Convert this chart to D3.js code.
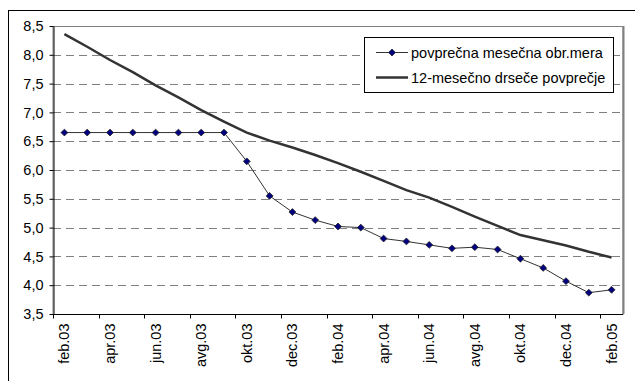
<!DOCTYPE html>
<html>
<head>
  <meta charset="utf-8">
  <title>Obrestna mera</title>
  <script src="https://d3js.org/d3.v7.min.js"></script>
  <style>
    body {
      margin: 0;
      padding: 0;
      background: white;
    }
    text {
      font-family: "Liberation Sans", Arial, sans-serif;
      fill: #000;
    }
    .grid line {
      stroke: #808080;
      stroke-dasharray: 8,5;
    }
  </style>
</head>
<body>
  <div id="chart"></div>
  <script>
    // months on the x axis
    var months = ["feb.03","mar.03","apr.03","maj.03","jun.03","jul.03","avg.03","sep.03",
                  "okt.03","nov.03","dec.03","jan.04","feb.04","mar.04","apr.04","maj.04",
                  "jun.04","jul.04","avg.04","sep.04","okt.04","nov.04","dec.04","jan.05","feb.05"];

    // povprecna mesecna obrestna mera
    var monthly = [6.65, 6.65, 6.65, 6.65, 6.65, 6.65, 6.65, 6.65,
                   6.15, 5.55, 5.27, 5.13, 5.02, 5.00, 4.81, 4.76,
                   4.70, 4.64, 4.66, 4.62, 4.46, 4.30, 4.07, 3.87, 3.92];

    // 12-mesecno drsece povprecje
    var moving = [8.36, 8.14, 7.91, 7.70, 7.47, 7.26, 7.04, 6.84,
                  6.65, 6.51, 6.39, 6.26, 6.12, 5.97, 5.81, 5.65,
                  5.52, 5.36, 5.19, 5.03, 4.87, 4.78, 4.69, 4.58, 4.48];

    var yTicks = [3.5, 4.0, 4.5, 5.0, 5.5, 6.0, 6.5, 7.0, 7.5, 8.0, 8.5];

    var seriesNames = ["povprečna mesečna obr.mera", "12-mesečno drseče povprečje"];

    var width = 635, height = 381;
    var plot = {left: 53, top: 26, right: 623, bottom: 314};
    var fontSize = "14.5px";

    var svg = d3.select("#chart")
      .append("svg")
        .attr("width", width)
        .attr("height", height);

    // outer chart border (runs off the picture on right and bottom)
    svg.append("rect")
        .attr("x", 8.5).attr("y", 10.5)
        .attr("width", 700).attr("height", 500)
        .attr("fill", "white")
        .attr("stroke", "#000")
        .attr("stroke-width", 1);

    var x = d3.scaleBand()
        .domain(months)
        .range([plot.left, plot.right])
        .padding(0);

    var y = d3.scaleLinear()
        .domain([3.5, 8.5])
        .range([plot.bottom, plot.top]);

    var locale = d3.formatLocale({decimal: ",", thousands: ".", grouping: [3], currency: ["", ""]});
    var fmt = locale.format(".1f");

    // plot area border
    svg.append("rect")
        .attr("x", plot.left).attr("y", plot.top + 0.5)
        .attr("width", plot.right - plot.left).attr("height", plot.bottom - plot.top)
        .attr("fill", "none")
        .attr("stroke", "#808080");
    svg.append("line")
        .attr("x1", plot.right + 0.5).attr("x2", plot.right + 0.5)
        .attr("y1", plot.top).attr("y2", plot.bottom)
        .attr("stroke", "#808080").attr("stroke-width", 2);

    // dashed grid lines
    svg.append("g")
        .attr("class", "grid")
      .selectAll("line")
        .data(yTicks.filter(function(d) { return d > 3.5 && d < 8.5; }))
      .enter().append("line")
        .attr("x1", plot.left)
        .attr("x2", plot.right)
        .attr("y1", function(d) { return Math.round(y(d)) + 0.5; })
        .attr("y2", function(d) { return Math.round(y(d)) + 0.5; });

    // y axis
    var yAxis = svg.append("g")
        .attr("transform", "translate(" + (plot.left + 0.5) + ",0)")
        .call(d3.axisLeft(y).tickValues(yTicks).tickFormat(fmt).tickSize(4).tickPadding(6).tickSizeOuter(0));
    yAxis.selectAll("text").style("font-size", fontSize).style("font-family", "Liberation Sans, Arial, sans-serif").attr("fill", "#000");
    yAxis.selectAll("line, path").attr("stroke", "#000");

    // x axis: ticks between categories, labels under every second month
    var xAxis = svg.append("g")
        .attr("transform", "translate(0," + (plot.bottom + 0.5) + ")");
    xAxis.append("line")
        .attr("x1", plot.left).attr("x2", plot.right)
        .attr("stroke", "#000");
    var labelled = months.filter(function(d, i) { return i % 2 === 0; });
    xAxis.selectAll(".tick")
        .data(labelled)
      .enter().append("line")
        .attr("class", "tick")
        .attr("x1", function(d) { return Math.round(x(d)) + 0.5; })
        .attr("x2", function(d) { return Math.round(x(d)) + 0.5; })
        .attr("y1", 0).attr("y2", 4)
        .attr("stroke", "#000");
    xAxis.selectAll(".lbl")
        .data(labelled)
      .enter().append("text")
        .attr("class", "lbl")
        .attr("transform", function(d) {
          return "translate(" + (x(d) + x.bandwidth() / 2) + ",9) rotate(-90)";
        })
        .attr("dy", "0.35em")
        .style("text-anchor", "end")
        .style("font-size", fontSize)
        .text(function(d) { return d; });

    var cx = function(d, i) { return x(months[i]) + x.bandwidth() / 2; };

    // moving average line
    svg.append("path")
        .datum(moving)
        .attr("fill", "none")
        .attr("stroke", "#333")
        .attr("stroke-width", 2.5)
        .attr("d", d3.line().x(cx).y(function(d) { return y(d); }));

    // monthly line with diamonds
    svg.append("path")
        .datum(monthly)
        .attr("fill", "none")
        .attr("stroke", "#333")
        .attr("stroke-width", 1)
        .attr("d", d3.line().x(cx).y(function(d) { return y(d); }));

    var diamond = d3.symbol().type(d3.symbolDiamond2).size(30);
    svg.selectAll(".pt")
        .data(monthly)
      .enter().append("path")
        .attr("class", "pt")
        .attr("transform", function(d, i) { return "translate(" + cx(d, i) + "," + y(d) + ")"; })
        .attr("d", diamond)
        .attr("fill", "#000080")
        .attr("stroke", "#222")
        .attr("stroke-width", 0.8);

    // legend
    var lg = svg.append("g");
    lg.append("rect")
        .attr("x", 364.5).attr("y", 37.5)
        .attr("width", 249).attr("height", 55)
        .attr("fill", "white")
        .attr("stroke", "#000");
    var rows = [52.5, 77.5];
    lg.append("line")
        .attr("x1", 376).attr("x2", 408).attr("y1", rows[0]).attr("y2", rows[0])
        .attr("stroke", "#333").attr("stroke-width", 1);
    lg.append("path")
        .attr("transform", "translate(392," + rows[0] + ")")
        .attr("d", diamond)
        .attr("fill", "#000080")
        .attr("stroke", "#222")
        .attr("stroke-width", 0.8);
    lg.append("line")
        .attr("x1", 376).attr("x2", 408).attr("y1", rows[1]).attr("y2", rows[1])
        .attr("stroke", "#333").attr("stroke-width", 2.5);
    lg.selectAll(".lt")
        .data(seriesNames)
      .enter().append("text")
        .attr("class", "lt")
        .attr("x", 411)
        .attr("y", function(d, i) { return rows[i]; })
        .attr("dy", "0.35em")
        .style("font-size", fontSize)
        .text(function(d) { return d; });
  </script>
</body>
</html>
